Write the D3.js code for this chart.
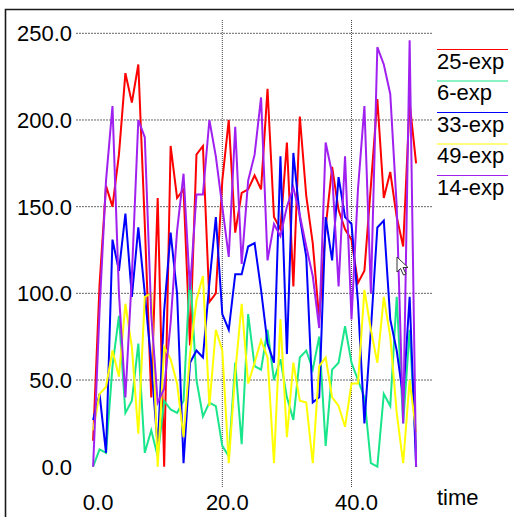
<!DOCTYPE html>
<html>
<head>
<meta charset="utf-8">
<script src="https://cdn.jsdelivr.net/npm/d3@7"></script>
<style>
  body { margin: 0; background: #fff; }
  svg { display: block; }
  text { font-family: "Liberation Sans", Arial, Helvetica, sans-serif; fill: #000; }
</style>
</head>
<body>
<div id="chart"></div>
<script>
// series values, one per time step t = 0..50
var seriesNames = ["25-exp", "6-exp", "33-exp", "49-exp", "14-exp"]
var seriesColors = ["#ff0000", "#19e68a", "#0000ff", "#ffff00", "#a020f0"]

var exp25 = [15,105,162,150,180,227,210,232,140,40,155,0,185,155,160,70,180,185,95,100,
             165,200,135,158,160,168,160,218,144,137,187,104,202,156,129,85,138,173,148,137,
             131,106,113,162,212,155,170,144,127,210,175]
var exp6  = [0,10,8,58,87,31,38,71,8,21,6,38,33,31,38,113,50,29,37,35,
             12,6,60,13,88,58,56,79,50,62,40,27,63,67,56,75,12,56,60,81,
             60,50,40,2,0,42,35,98,25,79,10]
var exp33 = [27,42,8,131,113,146,98,138,100,60,11,90,135,100,2,60,67,63,106,144,
             88,79,111,111,127,129,102,71,60,179,65,181,144,121,37,40,144,119,167,144,
             140,95,25,79,138,142,85,67,40,98,0]
var exp49 = [21,42,46,67,52,94,69,19,98,100,0,69,62,48,17,65,96,110,35,79,
             67,2,54,94,48,60,73,63,2,85,17,60,38,37,2,58,63,40,35,23,
             48,48,102,79,60,98,75,31,2,50,20]
var exp14 = [0,90,165,208,100,40,110,200,190,88,37,45,83,136,169,102,157,157,200,179,
             150,121,196,117,165,180,213,119,140,133,150,161,145,127,110,80,187,169,104,179,
             85,160,208,100,242,232,215,150,25,246,0]

var yTicks = [50, 100, 150, 200, 250]
var yLabels = [0, 50, 100, 150, 200, 250]
var xTicks = [20, 40]
var xLabels = [0, 20, 40]

var width = 514, height = 517

var svg = d3.select("#chart").append("svg")
  .attr("width", width)
  .attr("height", height)

var x = d3.scaleLinear().domain([0, 20]).range([93.1, 222.3])
var y = d3.scaleLinear().domain([0, 250]).range([466.7, 33.3])

// frame
svg.append("path")
  .attr("d", "M5.5,517 L5.5,9.5 L514,9.5")
  .attr("fill", "none")
  .attr("stroke", "#1a1a1a")
  .attr("stroke-width", 1.6)

// grid
svg.selectAll(".hgrid")
  .data(yTicks)
  .enter().append("line")
  .attr("class", "hgrid")
  .attr("x1", 76).attr("x2", 432)
  .attr("y1", function(d){ return y(d) }).attr("y2", function(d){ return y(d) })
  .attr("stroke", "#666")
  .attr("stroke-width", 1)
  .attr("stroke-dasharray", "2,1")

svg.selectAll(".vgrid")
  .data(xTicks)
  .enter().append("line")
  .attr("class", "vgrid")
  .attr("x1", function(d){ return x(d) }).attr("x2", function(d){ return x(d) })
  .attr("y1", 20).attr("y2", 487)
  .attr("stroke", "#444")
  .attr("stroke-width", 1)
  .attr("stroke-dasharray", "1,1")

// tick labels
svg.selectAll(".ylab")
  .data(yLabels)
  .enter().append("text")
  .attr("class", "ylab")
  .attr("x", 72)
  .attr("y", function(d){ return y(d) + 8 })
  .attr("text-anchor", "end")
  .style("font-size", "22px")
  .text(function(d){ return d.toFixed(1) })

svg.selectAll(".xlab")
  .data(xLabels)
  .enter().append("text")
  .attr("class", "xlab")
  .attr("x", function(d){ return x(d) + 5 })
  .attr("y", 510)
  .attr("text-anchor", "middle")
  .style("font-size", "22px")
  .text(function(d){ return d.toFixed(1) })

svg.append("text")
  .attr("x", 437)
  .attr("y", 505)
  .style("font-size", "22px")
  .text("time")

// lines
var allSeries = [exp25, exp6, exp33, exp49, exp14]
var line = d3.line()
  .x(function(d, i){ return x(i) })
  .y(function(d){ return y(d) })

allSeries.forEach(function(s, k){
  svg.append("path")
    .datum(s)
    .attr("d", line)
    .attr("fill", "none")
    .attr("stroke", seriesColors[k])
    .attr("stroke-width", 2)
    .attr("stroke-linejoin", "miter")
})

// legend
seriesNames.forEach(function(name, k){
  var ly = 49.5 + k * 31.5
  svg.append("line")
    .attr("x1", 437).attr("x2", 508)
    .attr("y1", ly).attr("y2", ly)
    .attr("stroke", seriesColors[k])
    .attr("stroke-width", 1)
  svg.append("text")
    .attr("x", 437)
    .attr("y", ly + 19)
    .style("font-size", "22px")
    .text(name)
})

// mouse pointer left in the screenshot
svg.append("path")
  .attr("d", "M397,257 L397,272 L400.5,268.5 L403.5,275 L406,274 L403,267.5 L408,267.5 Z")
  .attr("fill", "#fff")
  .attr("stroke", "#333")
  .attr("stroke-width", 1)
</script>
</body>
</html>
